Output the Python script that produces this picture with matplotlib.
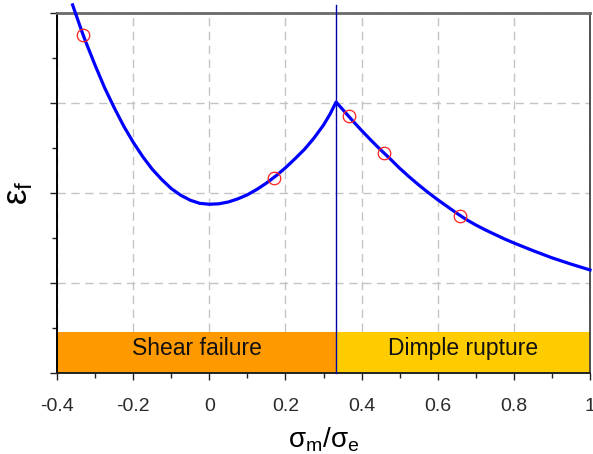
import matplotlib
matplotlib.use("Agg")
import matplotlib.pyplot as plt
from matplotlib.ticker import MultipleLocator, NullFormatter

# ---- data ----
curve_x = [-0.359, -0.350, -0.333, -0.325, -0.300, -0.275, -0.250, -0.225, -0.200,
           -0.175, -0.150, -0.125, -0.100, -0.075, -0.050, -0.025, 0.000, 0.025,
           0.050, 0.075, 0.100, 0.125, 0.150, 0.175, 0.200, 0.225, 0.250, 0.275,
           0.300, 0.317, 0.333,
           0.350, 0.375, 0.400, 0.425, 0.450, 0.475, 0.500, 0.525, 0.550, 0.575,
           0.600, 0.625, 0.650, 0.675, 0.700, 0.725, 0.750, 0.775, 0.800, 0.850,
           0.900, 0.950, 1.000]
curve_y = [0.818, 0.796, 0.755, 0.737, 0.684, 0.634, 0.590, 0.549, 0.513,
           0.481, 0.453, 0.430, 0.410, 0.395, 0.384, 0.377, 0.375, 0.376,
           0.380, 0.387, 0.396, 0.408, 0.422, 0.438, 0.456, 0.476, 0.497, 0.522,
           0.551, 0.575, 0.602,
           0.586, 0.562, 0.539, 0.517, 0.496, 0.476, 0.455, 0.436, 0.418, 0.401,
           0.385, 0.370, 0.355, 0.341, 0.329, 0.318, 0.308, 0.298, 0.289, 0.272,
           0.256, 0.242, 0.229]

exp_x = [-0.333, 0.169, 0.368, 0.459, 0.659]
exp_y = [0.751, 0.434, 0.571, 0.490, 0.349]

threshold = 1.0 / 3.0
line_top = 0.818
band_height = 0.092
regions = ["Shear failure", "Dimple rupture"]
region_bounds = [(-0.4, threshold), (threshold, 1.0)]
region_colors = ["#FF9900", "#FFCC00"]

xticks = [-0.4, -0.2, 0, 0.2, 0.4, 0.6, 0.8, 1]
xtick_labels = ["-0.4", "-0.2", "0", "0.2", "0.4", "0.6", "0.8", "1"]

# ---- figure ----
fig = plt.figure(figsize=(5.93, 4.54), dpi=100)
ax = fig.add_axes([57/593, 1 - 373/454, (590 - 57)/593, (373 - 13)/454])

ax.set_xlim(-0.4, 1.0)
ax.set_ylim(0, 0.8)

ax.set_xticks(xticks)
ax.set_xticklabels(xtick_labels)
ax.xaxis.set_minor_locator(MultipleLocator(0.1))
ax.yaxis.set_major_locator(MultipleLocator(0.2))
ax.yaxis.set_minor_locator(MultipleLocator(0.1))
ax.yaxis.set_major_formatter(NullFormatter())

ax.grid(True, which="major", color="#c4c4c4", linestyle=(0, (6, 4)), linewidth=1.0)
ax.set_axisbelow(True)

ax.tick_params(axis="both", which="major", direction="out", length=5, width=1,
               color="#222222", labelsize=14, pad=13)
ax.tick_params(axis="both", which="minor", direction="out", length=3.5, width=1,
               color="#222222")
for lab in ax.get_xticklabels():
    lab.set_family("Liberation Sans")
    lab.set_color("#2a2a2a")

ax.spines["left"].set_color("black")
ax.spines["left"].set_linewidth(1.4)
ax.spines["bottom"].set_color("#222222")
ax.spines["bottom"].set_linewidth(1.4)
ax.spines["top"].set_color("#6a6a6a")
ax.spines["top"].set_linewidth(2.0)
ax.spines["right"].set_color("#333333")
ax.spines["right"].set_linewidth(1.2)

# region bands
for name, (x0, x1), col in zip(regions, region_bounds, region_colors):
    ax.fill_between([x0, x1], 0, band_height, color=col, linewidth=0, zorder=2)
    ax.text((x0 + x1) / 2, band_height / 2 + 0.008, name, ha="center", va="center",
            fontsize=16.5, family="Liberation Sans", color="#111111", zorder=3)

# threshold line
ax.plot([threshold, threshold], [0, line_top], color="#0000AA", linewidth=1.0,
        clip_on=False, zorder=4)

# curve and experimental points
ax.plot(curve_x, curve_y, color="#0000FF", linewidth=2.3, clip_on=False,
        solid_joinstyle="round", zorder=5)
ax.plot(exp_x, exp_y, linestyle="none", marker="o", markersize=9,
        markerfacecolor="none", markeredgecolor="#FF2020", markeredgewidth=0.9,
        zorder=6)

ax.set_xlabel(r"$\mathregular{σ_m/σ_e}$", fontsize=20, family="Liberation Sans")
ax.xaxis.set_label_coords(0.5, -(440 - 373) / 360)
ax.xaxis.label.set_va("center")
ax.set_ylabel(r"$\mathregular{ε_f}$", fontsize=25, family="Liberation Sans")
ax.yaxis.set_label_coords(-(57 - 19) / 533, 0.5)
ax.yaxis.label.set_va("center")

fig.savefig("out.png", dpi=100)
